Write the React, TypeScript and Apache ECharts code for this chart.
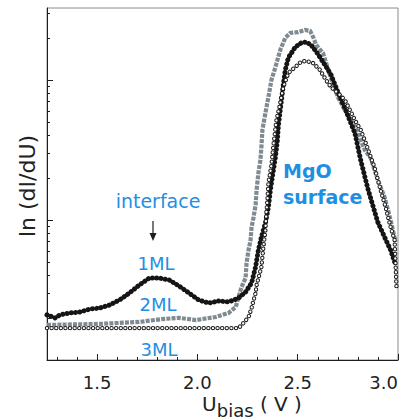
import React, { useEffect, useRef } from "react";
import * as echarts from "echarts";

// ---- Data (bias in V, dI/dU in arbitrary units, log scale) ----
const ml1Bias = [1.25, 1.29, 1.314, 1.364, 1.413, 1.463, 1.512, 1.562, 1.611, 1.661, 1.71, 1.76, 1.809, 1.859, 1.908, 1.958, 2.007, 2.057, 2.106, 2.156, 2.205, 2.24, 2.27, 2.29, 2.304, 2.319, 2.339, 2.354, 2.364, 2.379, 2.389, 2.399, 2.404, 2.413, 2.428, 2.438, 2.453, 2.488, 2.517, 2.542, 2.567, 2.601, 2.636, 2.666, 2.7, 2.735, 2.785, 2.814, 2.849, 2.899, 2.933, 2.963, 2.988];
const ml1Signal = [2.1, 2.0, 2.1, 2.17, 2.2, 2.31, 2.35, 2.47, 2.68, 3.01, 3.43, 3.85, 3.85, 3.73, 3.38, 3.01, 2.68, 2.55, 2.64, 2.6, 2.77, 3.06, 3.55, 4.62, 6.11, 7.56, 9.52, 12.4, 16.4, 22.8, 28.2, 37.3, 47.7, 61.1, 92.1, 118, 144, 172, 184, 187, 178, 153, 128, 109, 82.1, 63.1, 41.8, 26.8, 16.9, 9.68, 7.56, 6.11, 4.77];

const ml2Bias = [1.25, 1.512, 1.71, 1.824, 1.908, 1.993, 2.092, 2.156, 2.191, 2.205, 2.22, 2.24, 2.245, 2.255, 2.265, 2.27, 2.28, 2.29, 2.295, 2.304, 2.314, 2.319, 2.324, 2.339, 2.354, 2.369, 2.389, 2.413, 2.438, 2.463, 2.502, 2.537, 2.562, 2.577, 2.592, 2.626, 2.666, 2.7, 2.735, 2.765, 2.8, 2.834, 2.864, 2.899, 2.933, 2.963, 2.988];
const ml2Signal = [1.78, 1.81, 1.87, 1.96, 2.0, 1.93, 2.03, 2.17, 2.39, 2.82, 3.32, 3.85, 4.93, 6.11, 7.2, 8.91, 10.5, 12.8, 16.4, 21.7, 26.8, 33.2, 44.0, 58.1, 75.6, 100, 124, 164, 200, 217, 220, 228, 224, 203, 178, 156, 103, 75.6, 61.1, 51.8, 41.8, 31.6, 27.7, 19.3, 14.6, 10.0, 6.97];

const ml3Bias = [1.25, 1.512, 1.76, 2.007, 2.205, 2.23, 2.255, 2.27, 2.28, 2.29, 2.295, 2.319, 2.329, 2.339, 2.344, 2.349, 2.354, 2.369, 2.379, 2.394, 2.413, 2.428, 2.453, 2.488, 2.517, 2.542, 2.577, 2.611, 2.641, 2.666, 2.7, 2.735, 2.76, 2.785, 2.814, 2.839, 2.864, 2.884, 2.913, 2.938, 2.963, 2.983, 2.988, 2.993];
const ml3Signal = [1.69, 1.69, 1.69, 1.69, 1.69, 1.84, 2.03, 2.35, 2.68, 3.01, 3.43, 4.62, 6.41, 8.48, 11.4, 13.9, 18.4, 24.7, 34.3, 51.8, 68.5, 89.1, 112, 124, 135, 137, 132, 118, 100, 89.1, 80.8, 72.0, 61.1, 51.8, 44.0, 35.5, 28.2, 23.5, 16.4, 12.4, 8.91, 7.2, 4.77, 3.16];

// ---- Axis ticks ----
const xMajorTicks = [1.5, 2.0, 2.5, 3.0];
const xMinorTicks = [1.3, 1.4, 1.6, 1.7, 1.8, 1.9, 2.1, 2.2, 2.3, 2.4, 2.6, 2.7, 2.8, 2.9];
const yMajorTicks = [1, 10, 100];
const yMinorTicks = [2, 3, 4, 5, 6, 7, 8, 9, 20, 30, 40, 50, 60, 70, 80, 90, 200, 300];
const xRange = [1.25, 3.0];
const yRange = [1, 327];

const FONT = "DejaVu Sans";
const BLUE = "#1e8fe3";
const INK = "#1e1e1e";

export default function App() {
  const ref = useRef<HTMLDivElement>(null);

  useEffect(() => {
    if (!ref.current) return;
    const chart = echarts.init(ref.current, null, { renderer: "svg" });
    const pair = (xs: number[], ys: number[]) => xs.map((x, i) => [x, ys[i]]);

    const baseX = {
      type: "value",
      min: xRange[0],
      max: xRange[1],
      position: "bottom",
      splitLine: { show: false },
    };
    const baseY = {
      type: "log",
      logBase: 10,
      min: yRange[0],
      max: yRange[1],
      position: "left",
      splitLine: { show: false },
      minorSplitLine: { show: false },
    };

    chart.setOption({
      animation: false,
      backgroundColor: "#ffffff",
      grid: {
        left: 47,
        right: 8,
        top: 8,
        bottom: 60,
        show: true,
        borderColor: "#8a8a8a",
        borderWidth: 1,
        containLabel: false,
        outerBoundsMode: "none",
      },
      xAxis: [
        {
          ...baseX,
          axisLine: { show: true, onZero: false, lineStyle: { color: INK, width: 1 } },
          axisTick: { show: true, inside: true, length: 6, customValues: xMajorTicks, lineStyle: { color: INK } },
          axisLabel: {
            show: true,
            customValues: xMajorTicks,
            formatter: (v: number) => v.toFixed(1),
            fontFamily: FONT,
            fontSize: 18,
            color: "#222",
            margin: 13,
            alignMaxLabel: "right",
          },
        },
        {
          ...baseX,
          axisLine: { show: false, onZero: false },
          axisTick: { show: true, inside: true, length: 3, customValues: xMinorTicks, lineStyle: { color: INK } },
          axisLabel: { show: false },
        },
      ],
      yAxis: [
        {
          ...baseY,
          axisLine: { show: true, onZero: false, lineStyle: { color: INK, width: 1 } },
          axisTick: { show: true, inside: true, length: 6, customValues: yMajorTicks, lineStyle: { color: INK } },
          axisLabel: { show: false },
        },
        {
          ...baseY,
          axisLine: { show: false, onZero: false },
          axisTick: { show: true, inside: true, length: 3, customValues: yMinorTicks, lineStyle: { color: INK } },
          axisLabel: { show: false },
        },
      ],
      series: [
        {
          type: "line",
          name: "2ML",
          data: pair(ml2Bias, ml2Signal),
          symbol: "none",
          silent: true,
          z: 2,
          lineStyle: { color: "#7f8a91", width: 4.2, type: [4, 1.2], cap: "butt", join: "miter" },
        },
        {
          type: "line",
          name: "1ML",
          data: pair(ml1Bias, ml1Signal),
          symbol: "none",
          silent: true,
          z: 3,
          lineStyle: { color: "#151515", width: 5, type: [0.01, 4.3], cap: "round", join: "round" },
        },
        {
          type: "line",
          name: "3ML",
          data: pair(ml3Bias, ml3Signal),
          symbol: "none",
          silent: true,
          z: 4,
          lineStyle: { color: "#1a1a1a", width: 4.4, type: [0.01, 4.6], cap: "round", join: "round" },
        },
        {
          type: "line",
          name: "3ML ",
          data: pair(ml3Bias, ml3Signal),
          symbol: "none",
          silent: true,
          z: 5,
          lineStyle: { color: "#ffffff", width: 2.4, type: [0.01, 4.6], cap: "round", join: "round" },
        },
      ],
      graphic: [
        {
          type: "text",
          x: 27,
          y: 186,
          rotation: Math.PI / 2,
          style: { text: "ln (dI/dU)", fontFamily: FONT, fontSize: 22, fill: "#222", align: "center", verticalAlign: "middle" },
        },
        {
          type: "text",
          x: 252,
          y: 394,
          style: {
            text: "{u|U}{s|bias}{u| ( V )}",
            align: "center",
            verticalAlign: "top",
            rich: {
              u: { fontFamily: FONT, fontSize: 20, lineHeight: 20, verticalAlign: "top", fill: "#222" },
              s: { fontFamily: FONT, fontSize: 18, lineHeight: 32, fill: "#222" },
            },
          },
        },
        {
          type: "text",
          x: 158,
          y: 201,
          style: { text: "interface", fontFamily: FONT, fontSize: 19, fill: BLUE, align: "center", verticalAlign: "middle" },
        },
        {
          type: "line",
          shape: { x1: 153, y1: 221, x2: 153, y2: 235 },
          style: { stroke: INK, lineWidth: 1.2 },
        },
        {
          type: "polygon",
          shape: { points: [[149.5, 233], [156.5, 233], [153, 241]] },
          style: { fill: INK },
        },
        {
          type: "text",
          x: 156,
          y: 263,
          style: { text: "1ML", fontFamily: FONT, fontSize: 18, fill: BLUE, align: "center", verticalAlign: "middle" },
        },
        {
          type: "text",
          x: 158,
          y: 304,
          style: { text: "2ML", fontFamily: FONT, fontSize: 18, fill: BLUE, align: "center", verticalAlign: "middle" },
        },
        {
          type: "text",
          x: 159,
          y: 349,
          style: { text: "3ML", fontFamily: FONT, fontSize: 18, fill: BLUE, align: "center", verticalAlign: "middle" },
        },
        {
          type: "text",
          x: 283,
          y: 171,
          style: { text: "MgO", fontFamily: FONT, fontSize: 19, fontWeight: "bold", fill: BLUE, align: "left", verticalAlign: "middle" },
        },
        {
          type: "text",
          x: 283,
          y: 197,
          style: { text: "surface", fontFamily: FONT, fontSize: 19, fontWeight: "bold", fill: BLUE, align: "left", verticalAlign: "middle" },
        },
      ],
    });

    return () => chart.dispose();
  }, []);

  return (
    <div
      ref={ref}
      style={{ position: "fixed", left: 0, top: 0, width: 406, height: 420, background: "#ffffff" }}
    />
  );
}
